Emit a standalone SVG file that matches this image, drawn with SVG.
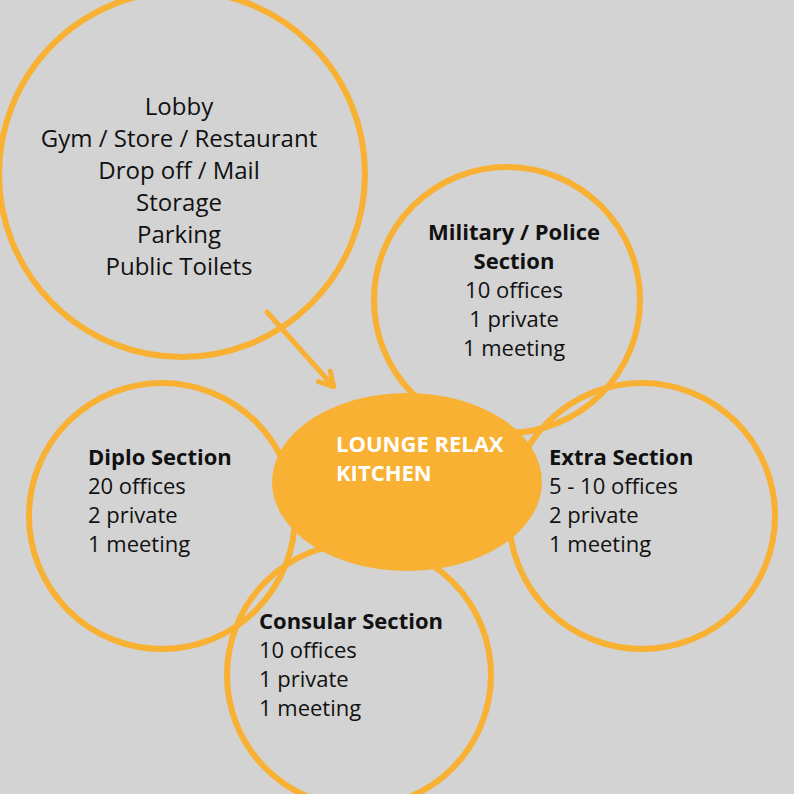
<svg xmlns="http://www.w3.org/2000/svg" width="794" height="794" viewBox="0 0 794 794">
<style>
.c{fill:none;stroke:#F8B133;stroke-width:6}
.t{font-family:"Open Sans","Liberation Sans",sans-serif;font-size:22px;fill:#111}
.big{font-size:24px}
.b{font-weight:bold}
.w{font-family:"Open Sans","Liberation Sans",sans-serif;font-size:22px;font-weight:bold;fill:#fff}
</style>
<defs>
<marker id="ah" viewBox="0 0 20 20" refX="16" refY="10" markerWidth="20" markerHeight="20" markerUnits="userSpaceOnUse" orient="auto">
<path d="M3 2 L17 10 L3 18" fill="none" stroke="#F8B133" stroke-width="5" stroke-linecap="round" stroke-linejoin="round"/>
</marker>
</defs>
<rect width="794" height="794" fill="#D3D3D3"/>
<g id="public">
<circle class="c" cx="182" cy="174" r="183"/>
<text class="t big" text-anchor="middle"><tspan x="179" y="115">Lobby</tspan><tspan x="179" y="147">Gym / Store / Restaurant</tspan><tspan x="179" y="179">Drop off / Mail</tspan><tspan x="179" y="211">Storage</tspan><tspan x="179" y="243">Parking</tspan><tspan x="179" y="275">Public Toilets</tspan></text>
</g>
<g id="military">
<circle class="c" cx="507" cy="300" r="133"/>
<text class="t" text-anchor="middle"><tspan class="b" x="514" y="240">Military / Police</tspan><tspan class="b" x="514" y="269">Section</tspan><tspan x="514" y="298">10 offices</tspan><tspan x="514" y="327">1 private</tspan><tspan x="514" y="356">1 meeting</tspan></text>
</g>
<g id="extra">
<circle class="c" cx="642" cy="516" r="133"/>
<text class="t"><tspan class="b" x="549" y="465">Extra Section</tspan><tspan x="549" y="494">5 - 10 offices</tspan><tspan x="549" y="523">2 private</tspan><tspan x="549" y="552">1 meeting</tspan></text>
</g>
<g id="diplo">
<circle class="c" cx="162" cy="516" r="133"/>
<text class="t"><tspan class="b" x="88" y="465">Diplo Section</tspan><tspan x="88" y="494">20 offices</tspan><tspan x="88" y="523">2 private</tspan><tspan x="88" y="552">1 meeting</tspan></text>
</g>
<g id="consular">
<circle class="c" cx="359" cy="675" r="132"/>
<text class="t"><tspan class="b" x="259" y="629">Consular Section</tspan><tspan x="259" y="658">10 offices</tspan><tspan x="259" y="687">1 private</tspan><tspan x="259" y="716">1 meeting</tspan></text>
</g>
<g id="lounge">
<ellipse cx="407" cy="482" rx="135" ry="89" fill="#F8B133"/>
<text class="w"><tspan x="336" y="452">LOUNGE RELAX</tspan><tspan x="336" y="481">KITCHEN</tspan></text>
</g>
<g id="connectors">
<line x1="267" y1="312" x2="333" y2="386" stroke="#F8B133" stroke-width="5" stroke-linecap="round" marker-end="url(#ah)"/>
</g>
</svg>
